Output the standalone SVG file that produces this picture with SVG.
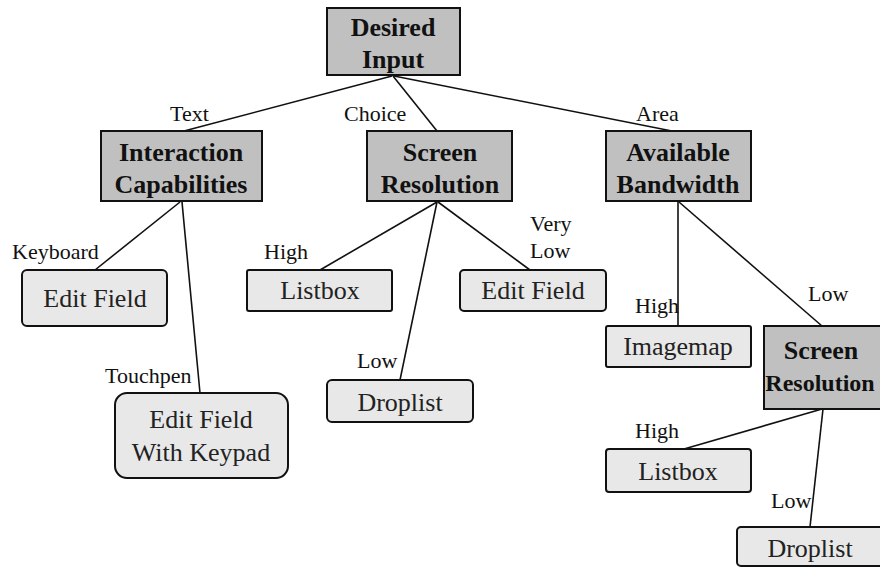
<svg xmlns="http://www.w3.org/2000/svg" width="880" height="567" viewBox="0 0 880 567">
<style>
.g rect{fill:#c0c0c0;stroke:#111;stroke-width:2}
.l rect{fill:#e8e8e8;stroke:#111;stroke-width:2}
.g text{font-family:"Liberation Serif",serif;font-weight:bold;font-size:26px;text-anchor:middle;fill:#111}
.l text{font-family:"Liberation Serif",serif;font-size:26px;text-anchor:middle;fill:#222}
.lab{font-family:"Liberation Serif",serif;font-size:22px;fill:#111}
#edges line{stroke:#111;stroke-width:1.6}
</style>
<rect width="880" height="567" fill="#fff"/>
<g id="edges">
<line x1="392" y1="76" x2="184" y2="131"/>
<line x1="393" y1="76" x2="437" y2="131"/>
<line x1="394" y1="76" x2="672" y2="131"/>
<line x1="180" y1="202" x2="95" y2="270"/>
<line x1="182" y1="202" x2="200" y2="393"/>
<line x1="437" y1="202" x2="320" y2="270"/>
<line x1="437" y1="202" x2="400" y2="380"/>
<line x1="438" y1="202" x2="530" y2="270"/>
<line x1="678" y1="202" x2="678" y2="326"/>
<line x1="679" y1="202" x2="822" y2="326"/>
<line x1="822" y1="409" x2="684" y2="449"/>
<line x1="823" y1="409" x2="810" y2="527"/>
</g>
<g id="labels">
<text class="lab" x="170" y="121">Text</text>
<text class="lab" x="344" y="121">Choice</text>
<text class="lab" x="636" y="121">Area</text>
<text class="lab" x="12" y="259">Keyboard</text>
<text class="lab" x="264" y="259">High</text>
<text class="lab" x="530" y="231">Very</text>
<text class="lab" x="530" y="258">Low</text>
<text class="lab" x="105" y="383">Touchpen</text>
<text class="lab" x="357" y="368">Low</text>
<text class="lab" x="635" y="313">High</text>
<text class="lab" x="808" y="301">Low</text>
<text class="lab" x="635" y="438">High</text>
<text class="lab" x="771" y="508">Low</text>
</g>
<g id="desired-input" class="g"><rect x="327" y="8" width="133" height="67"/><text x="393" y="36">Desired</text><text x="393" y="68">Input</text></g>
<g id="interaction-capabilities" class="g"><rect x="101" y="131" width="161" height="70"/><text x="181" y="161">Interaction</text><text x="181" y="193">Capabilities</text></g>
<g id="screen-resolution-1" class="g"><rect x="367" y="131" width="145" height="70"/><text x="440" y="161">Screen</text><text x="440" y="193">Resolution</text></g>
<g id="available-bandwidth" class="g"><rect x="606" y="131" width="145" height="70"/><text x="678" y="161">Available</text><text x="678" y="193">Bandwidth</text></g>
<g id="edit-field-1" class="l"><rect x="22" y="270" width="145" height="56" rx="5"/><text x="95" y="307">Edit Field</text></g>
<g id="edit-field-keypad" class="l"><rect x="115" y="393" width="173" height="85" rx="12"/><text x="201" y="428">Edit Field</text><text x="201" y="461">With Keypad</text></g>
<g id="listbox-1" class="l"><rect x="247" y="270" width="145" height="41" rx="2"/><text x="320" y="299">Listbox</text></g>
<g id="droplist-1" class="l"><rect x="327" y="380" width="146" height="42" rx="5"/><text x="400" y="411">Droplist</text></g>
<g id="edit-field-2" class="l"><rect x="460" y="270" width="146" height="41" rx="4"/><text x="533" y="299">Edit Field</text></g>
<g id="imagemap" class="l"><rect x="606" y="326" width="145" height="41" rx="2"/><text x="678" y="355">Imagemap</text></g>
<g id="screen-resolution-2" class="g"><rect x="764" y="326" width="118" height="83"/><text x="821" y="359">Screen</text><text x="820" y="391" style="font-size:24px">Resolution</text></g>
<g id="listbox-2" class="l"><rect x="606" y="449" width="145" height="43" rx="3"/><text x="678" y="480">Listbox</text></g>
<g id="droplist-2" class="l"><rect x="737" y="527" width="146" height="39" rx="4"/><text x="810" y="557">Droplist</text></g>
</svg>
